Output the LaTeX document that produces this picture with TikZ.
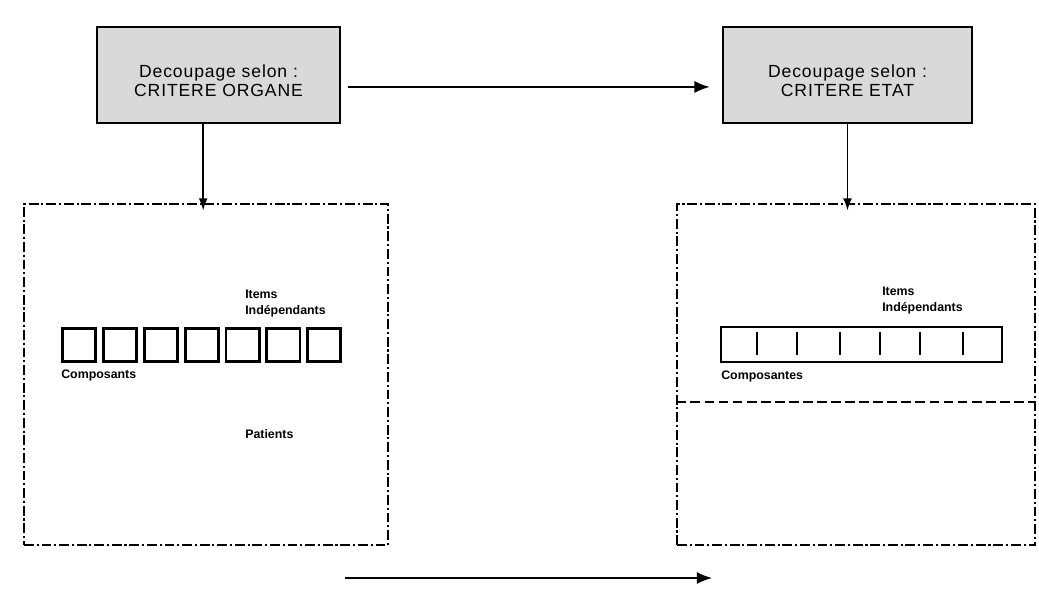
\documentclass[tikz,border=0pt]{standalone}
\usepackage{fontspec}
\setmainfont{Liberation Sans}
\newfontfamily\critfont{Liberation Sans}[LetterSpace=5]
\usetikzlibrary{arrows.meta, matrix, positioning}

\begin{document}
\begin{tikzpicture}[x=0.025cm, y=-0.025cm,
  critere/.style={draw, line width=1pt, fill=gray!30, inner sep=0pt, minimum height=2.4cm},
  texte/.style={align=center, inner sep=0pt, yshift=-4pt, font=\critfont\fontsize{12.5}{13.5}\selectfont},
  zone/.style={draw, line width=0.8pt, dash pattern=on 7pt off 2pt on 1.5pt off 2pt,
    minimum width=9.1cm, minimum height=8.525cm},
  petit/.style={font=\fontsize{8.8}{10}\selectfont\bfseries, anchor=north west, inner sep=0pt, align=left},
  case/.style={draw, line width=2pt, minimum size=0.83cm, inner sep=0pt},
  fleche/.style={-{Latex[length=3.8mm, width=3mm]}, line width=1pt},
  lien/.style={-{Latex[length=3mm, width=2.2mm]}, line width=1pt}
]
\useasboundingbox (0,0) rectangle (1039,588);

% les deux criteres
\node[critere, minimum width=6.075cm,
  label={[texte]center:Decoupage selon :\\CRITERE ORGANE}] (gauche) at (218.5,75) {};
\node[critere, minimum width=6.225cm,
  label={[texte]center:Decoupage selon :\\CRITERE ETAT}] (droite) at (847.5,75) {};

\draw[fleche, shorten <=5pt, shorten >=9pt] ([yshift=-8.5pt]gauche.east) -- ([yshift=-8.5pt]droite.west);

% zones
\node[zone] (zoneG) at (206,374.5) {};
\node[zone, minimum width=8.95cm] (zoneD) at (856,374.5) {};
\draw[line width=0.8pt, dash pattern=on 7pt off 3pt] (zoneD.west |- 0,402) -- (zoneD.east |- 0,402);

\draw[lien, shorten >=-5pt] ([xshift=-2pt]gauche.south -| zoneG.north) -- ([xshift=-2pt]zoneG.north);
\draw[lien, shorten >=-5pt] (droite.south) -- (droite.south |- zoneD.north);

% cases separees
\matrix (cases) [matrix of nodes, nodes in empty cells, column sep=0.12cm, nodes={case},
  inner sep=0pt, anchor=north west] at (61,327) {
  & & & & & & \\
};
\node[petit] (itemsG) at (245,290) {Items\\[1pt]Indépendants};
\node[petit] (compG) at (61,370) {Composants};
\node[petit] (patG) at (245,429) {Patients};

% bande continue
\draw[line width=2pt] (721,327) rectangle (1002,362);
\foreach \x in {757,797,840,880,920,963} {
  \draw[line width=1pt] (\x,332) -- (\x,355);
}
\node[petit] (itemsD) at (882,287) {Items\\[1pt]Indépendants};
\node[petit] (compD) at (721,371) {Composantes};

% fleche du bas
\coordinate (bas1) at (345,578);
\coordinate (bas2) at (712,578);
\draw[fleche] (bas1) -- (bas2);
\end{tikzpicture}
\end{document}
